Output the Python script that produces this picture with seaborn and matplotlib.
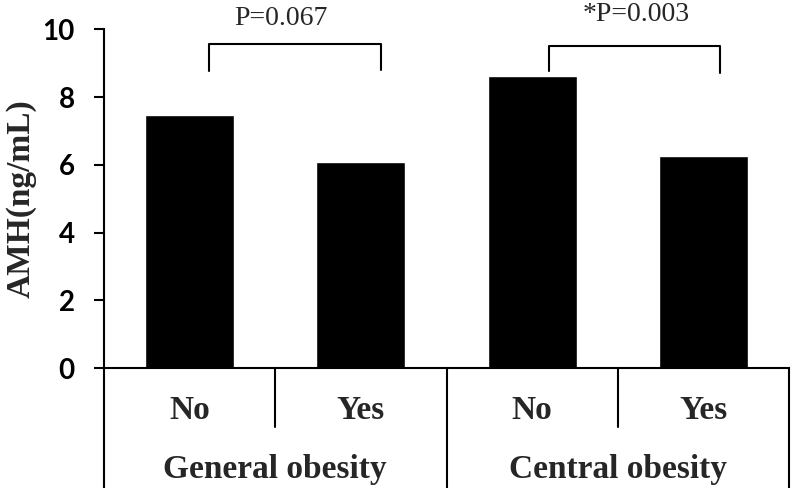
import pandas as pd
import numpy as np
import seaborn as sns
import matplotlib.pyplot as plt

## Data
groups = ["General obesity", "General obesity", "Central obesity", "Central obesity"]
status = ["No", "Yes", "No", "Yes"]
amh = [7.47, 6.09, 8.62, 6.26]
p_labels = ["P=0.067", "*P=0.003"]

df = pd.DataFrame({"group": groups, "status": status, "amh": amh})
df["key"] = df["group"] + "|" + df["status"]

sns.set_style("white")
serif = ["Liberation Serif", "DejaVu Serif"]

fig = plt.figure(figsize=(7.94, 4.88), dpi=100)
ax = fig.add_axes([0.131, 0.2453, 0.8627, 0.6947])

sns.barplot(data=df, x="key", y="amh", color="black", width=0.52,
            saturation=1, ax=ax, errorbar=None)

ax.set_xlim(-0.5, 3.5)
ax.set_ylim(0, 10)
ax.set_yticks(np.arange(0, 11, 2))
ax.set_yticklabels([str(v) for v in range(0, 11, 2)],
                   fontfamily="Lato", fontweight="bold", fontsize=20)
ax.tick_params(axis="y", left=True, direction="out", length=7, width=1.5, pad=14, colors="black")
ax.set_xticks(range(4))
ax.set_xticklabels(status, fontfamily=serif, fontweight="bold", fontsize=24)
ax.tick_params(axis="x", bottom=False, length=0, pad=19)
ax.set_xlabel("")
ax.set_ylabel("AMH(ng/mL)", fontfamily=serif, fontweight="bold", fontsize=24, labelpad=4)

sns.despine(ax=ax)
for side in ["left", "bottom"]:
    ax.spines[side].set_linewidth(1.5)
    ax.spines[side].set_color("black")

# group separators below the axis
trans = ax.get_xaxis_transform()
for xs, y_end in [(-0.5, -0.352), (0.5, -0.173), (1.5, -0.352), (2.5, -0.173), (3.5, -0.352)]:
    ax.plot([xs, xs], [0, y_end], color="black", lw=1.5, transform=trans, clip_on=False)

# group labels
for i, g in enumerate(["General obesity", "Central obesity"]):
    ax.text(2 * i + 0.5, -0.30, g, transform=trans, ha="center", va="center",
            fontfamily=serif, fontweight="bold", fontsize=24)

# significance brackets
ax.plot([0.114, 0.114, 1.117, 1.117], [8.77, 9.57, 9.57, 8.80], color="black", lw=1.5, clip_on=False)
ax.plot([2.10, 2.10, 3.10, 3.10], [8.77, 9.51, 9.51, 8.71], color="black", lw=1.5, clip_on=False)
ax.text(0.534, 10.33, p_labels[0], ha="center", va="center", fontfamily=serif, fontsize=20)
ax.text(2.61, 10.45, p_labels[1], ha="center", va="center", fontfamily=serif, fontsize=20)

fig.savefig("out.png", dpi=100)
